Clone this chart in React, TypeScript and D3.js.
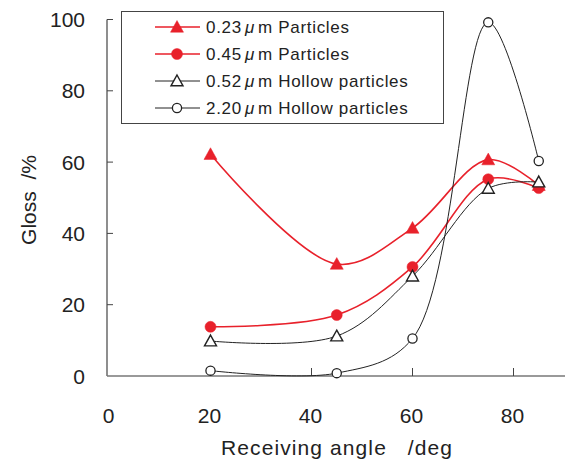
import React from "react";
import * as d3 from "d3";

const angles = [20, 45, 60, 75, 85];
const s023 = [62.2, 31.4, 41.5, 60.7, 53.5];
const s045 = [13.8, 17.1, 30.6, 55.2, 52.7];
const s052 = [9.8, 11.2, 28.0, 52.6, 54.4];
const s220 = [1.5, 0.8, 10.5, 99.2, 60.3];
const sizeLabels = ["0.23", "0.45", "0.52", "2.20"];
const kindLabels = ["Particles", "Particles", "Hollow particles", "Hollow particles"];
const xTicks = [0, 20, 40, 60, 80];
const yTicks = [0, 20, 40, 60, 80, 100];

const RED = "#e8212b";
const FONT = "'Liberation Sans', Arial, sans-serif";

type Marker = "tri" | "circ";
const series = [
  { values: s023, color: RED, marker: "tri" as Marker, filled: true, width: 1.6 },
  { values: s045, color: RED, marker: "circ" as Marker, filled: true, width: 1.6 },
  { values: s052, color: "#222", marker: "tri" as Marker, filled: false, width: 1 },
  { values: s220, color: "#222", marker: "circ" as Marker, filled: false, width: 1 },
];

function MarkerShape({ x, y, s }: { x: number; y: number; s: typeof series[0] }) {
  const fill = s.filled ? s.color : "#fff";
  const stroke = s.filled ? s.color : "#222";
  if (s.marker === "tri") {
    const r = s.filled ? 6.5 : 6;
    const pts = `${x},${y - r} ${x + r},${y + r * 0.8} ${x - r},${y + r * 0.8}`;
    return <polygon points={pts} fill={fill} stroke={stroke} strokeWidth={s.filled ? 0.5 : 1.4} />;
  }
  return <circle cx={x} cy={y} r={s.filled ? 5.5 : 4.6} fill={fill} stroke={stroke} strokeWidth={s.filled ? 0.5 : 1.3} />;
}

export default function App() {
  const W = 565, H = 462;
  const x = d3.scaleLinear().domain([0, 80]).range([109.5, 513.5]);
  const y = d3.scaleLinear().domain([0, 100]).range([376, 19.5]);
  const line = d3
    .line<number>()
    .x((_, i) => x(angles[i]))
    .y((d) => y(d))
    .curve(d3.curveCatmullRom.alpha(0.5));

  return (
    <svg width={W} height={H} style={{ position: "absolute", left: 0, top: 0, background: "#fff" }} fontFamily={FONT}>
      <line x1={107} x2={107} y1={19.5} y2={376} stroke="#444" strokeWidth={1.2} />
      <line x1={107} x2={565} y1={376} y2={376} stroke="#777" strokeWidth={1.4} />
      {yTicks.filter((t) => t > 0).map((t) => (
        <line key={t} x1={107} x2={113} y1={y(t)} y2={y(t)} stroke="#444" strokeWidth={1} />
      ))}
      {xTicks.filter((t) => t > 0).map((t) => (
        <line key={t} x1={x(t)} x2={x(t)} y1={376} y2={368} stroke="#444" strokeWidth={1} />
      ))}
      {yTicks.map((t) => (
        <text key={t} x={85} y={y(t)} dy="0.36em" textAnchor="end" fontSize={21} fill="#222">
          {t}
        </text>
      ))}
      {xTicks.map((t) => (
        <text key={t} x={x(t) - 1} y={415} dy="0.36em" textAnchor="middle" fontSize={21} fill="#222">
          {t}
        </text>
      ))}
      <text x={337} y={447} dy="0.36em" textAnchor="middle" fontSize={21} letterSpacing={1.1} fill="#222">
        Receiving angle {"\u00a0\u00a0"}/deg
      </text>
      <text transform={`translate(28,200) rotate(-90)`} dy="0.36em" textAnchor="middle" fontSize={21} fill="#222">
        Gloss {"\u00a0"}/%
      </text>

      {series.map((s, i) => (
        <path key={i} d={line(s.values) || ""} fill="none" stroke={s.color} strokeWidth={s.width} />
      ))}
      {series.map((s, i) =>
        s.values.map((v, j) => <MarkerShape key={`${i}-${j}`} x={x(angles[j])} y={y(v)} s={s} />)
      )}

      <rect x={121.5} y={11.5} width={322} height={112} fill="#fff" stroke="#444" strokeWidth={1} />
      {series.map((s, i) => {
        const ly = 27 + i * 27;
        return (
          <g key={i}>
            <line x1={155} x2={200} y1={ly} y2={ly} stroke={s.color} strokeWidth={s.width} />
            <MarkerShape x={177} y={ly} s={s} />
            <text x={206} y={ly} dy="0.36em" fontSize={17} letterSpacing={0.7} fill="#222">
              {sizeLabels[i]}
              <tspan dx={3} fontStyle="italic">{"\u03bc"}</tspan>
              <tspan dx={3}>m</tspan> {kindLabels[i]}
            </text>
          </g>
        );
      })}
    </svg>
  );
}
